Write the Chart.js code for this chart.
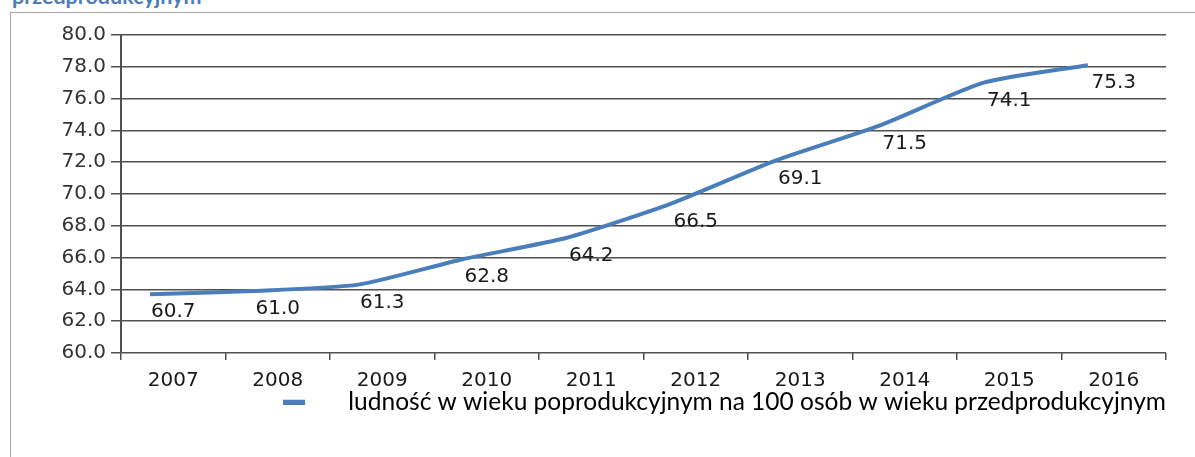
<!DOCTYPE html>
<html>
<head>
<meta charset="utf-8">
<script src="https://cdn.jsdelivr.net/npm/chart.js@4.4.0/dist/chart.umd.min.js"></script>
<style>
    html, body { margin: 0; padding: 0; background: #fff; overflow: hidden; }
    body { width: 1195px; height: 457px; position: relative; }
    #title {
        position: absolute; left: 12px; top: -14px;
        font: bold 21.5px Lato, sans-serif; line-height: 20px;
        color: #4a7ebb; white-space: nowrap;
    }
    #frame {
        position: absolute; left: 10px; top: 12px; width: 1200px; height: 460px;
        border-left: 1px solid #a6a6a6; border-top: 1px solid #a6a6a6;
    }
    #chart { position: absolute; left: 11px; top: 13px; }
</style>
</head>
<body>
<div id="title">przedprodukcyjnym</div>
<div id="frame"></div>
<canvas id="chart" width="1184" height="444"></canvas>
<script>
// values
const years = ['2007', '2008', '2009', '2010', '2011', '2012', '2013', '2014', '2015', '2016'];
const lineValues = [63.7, 63.9, 64.3, 65.9, 67.25, 69.4, 72.1, 74.3, 77.0, 78.1];
const valueLabels = ['60.7', '61.0', '61.3', '62.8', '64.2', '66.5', '69.1', '71.5', '74.1', '75.3'];
const seriesName = 'ludność w wieku poprodukcyjnym na 100 osób w wieku przedprodukcyjnym';

const lineBlue = '#4a7ebb';
const gridGray = '#505050';

// legend marker: short bar on the left of a wider box, so the text sits further away
const marker = document.createElement('canvas');
marker.width = 53;
marker.height = 6;
const mctx = marker.getContext('2d');
mctx.fillStyle = lineBlue;
mctx.fillRect(0, 1, 22, 5);

// the text labels sit at the category centres, just under the line
const valueLabelPlugin = {
    id: 'valueLabels',
    afterDatasetsDraw(chart) {
        const ctx = chart.ctx;
        const x = chart.scales.x;
        const y = chart.scales.y;
        ctx.save();
        ctx.font = '20px "DejaVu Sans", sans-serif';
        ctx.fillStyle = '#1a1a1a';
        ctx.textAlign = 'center';
        ctx.textBaseline = 'middle';
        valueLabels.forEach((txt, i) => {
            ctx.fillText(txt, x.getPixelForValue(i), y.getPixelForValue(lineValues[i]) + 18);
        });
        ctx.restore();
    }
};

function createChart() {
    const ctx = document.getElementById('chart').getContext('2d');
    return new Chart(ctx, {
        type: 'line',
        data: {
            labels: years,
            datasets: [{
                label: seriesName,
                data: lineValues,
                xAxisID: 'xl',
                borderColor: lineBlue,
                backgroundColor: lineBlue,
                borderWidth: 4,
                pointRadius: 0,
                tension: 0.2
            }]
        },
        options: {
            responsive: false,
            animation: false,
            layout: { padding: { top: 22, right: 29, bottom: 33, left: 0 } },
            scales: {
                x: {
                    type: 'category',
                    offset: true,
                    afterFit: s => { s.height = 36.5; },
                    grid: {
                        offset: true,
                        drawOnChartArea: true,
                        color: c => c.index === years.length ? '#a6a6a6' : 'rgba(0,0,0,0)',
                        tickColor: gridGray,
                        tickLength: 7,
                        lineWidth: 1.5
                    },
                    border: { display: false },
                    ticks: {
                        color: '#1a1a1a',
                        padding: 11,
                        maxRotation: 0,
                        font: { family: 'DejaVu Sans', size: 20, lineHeight: 1 }
                    }
                },
                xl: {
                    type: 'linear',
                    display: false,
                    min: 2006.722,
                    max: 2016.749
                },
                y: {
                    min: 60,
                    max: 80,
                    afterFit: s => { s.width = 110; },
                    grid: { color: gridGray, lineWidth: 1.5, tickLength: 10 },
                    border: { color: gridGray, width: 2 },
                    ticks: {
                        stepSize: 2,
                        color: '#333',
                        padding: 5,
                        font: { family: 'DejaVu Sans', size: 20 },
                        callback: v => v.toFixed(1)
                    }
                }
            },
            plugins: {
                legend: {
                    position: 'bottom',
                    align: 'end',
                    labels: {
                        usePointStyle: true,
                        pointStyleWidth: 53,
                        padding: 0,
                        color: '#1a1a1a',
                        font: { family: 'Lato', size: 24.5 },
                        generateLabels: chart => [{
                            text: seriesName,
                            fillStyle: lineBlue,
                            strokeStyle: lineBlue,
                            lineWidth: 0,
                            pointStyle: marker,
                            datasetIndex: 0
                        }]
                    }
                },
                tooltip: { enabled: false }
            }
        },
        plugins: [valueLabelPlugin]
    });
}

createChart();
</script>
</body>
</html>
